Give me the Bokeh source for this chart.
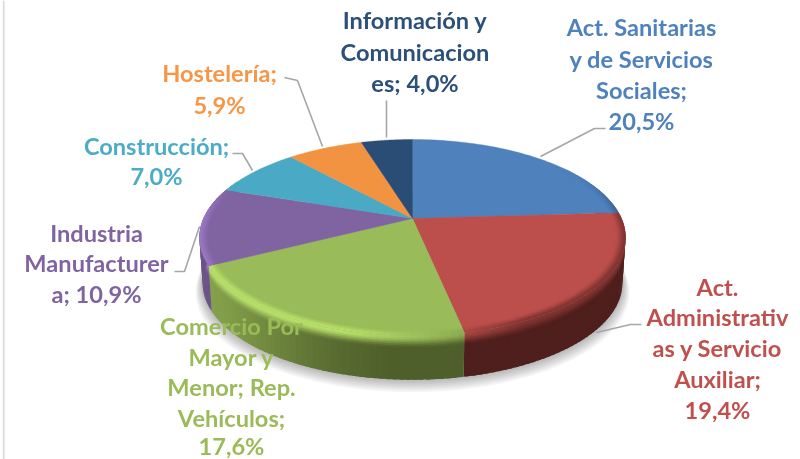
import numpy as np
from bokeh.plotting import figure
from bokeh.embed import file_html
from bokeh.resources import INLINE
from bokeh.core.properties import value

categories = ["Act. Sanitarias y de Servicios Sociales", "Act. Administrativas y Servicio Auxiliar",
              "Comercio Por Mayor y Menor; Rep. Vehículos", "Industria Manufacturera",
              "Construcción", "Hostelería", "Información y Comunicaciones"]
shares = [20.5, 19.4, 17.6, 10.9, 7.0, 5.9, 4.0]
top_colors = ["#4F81BD", "#BC4F4C", "#9ABB59", "#8064A2", "#4AA9C4", "#F29341", "#2A4D75"]
text_colors = ["#4F81BD", "#C0504D", "#9BBB59", "#8064A2", "#4BACC6", "#F79646", "#2B5079"]
label_lines = [
    ["Act. Sanitarias", "y de Servicios", "Sociales;", "20,5%"],
    ["Act.", "Administrativ", "as y Servicio", "Auxiliar;", "19,4%"],
    ["Comercio Por", "Mayor y", "Menor; Rep.", "Vehículos;", "17,6%"],
    ["Industria", "Manufacturer", "a; 10,9%"],
    ["Construcción;", "7,0%"],
    ["Hostelería;", "5,9%"],
    ["Información y", "Comunicacion", "es; 4,0%"],
]
label_x = [641, 717, 231, 96, 156, 219, 414.5]
label_y = [[26, 58, 89, 120], [286, 316, 347, 378, 409], [325, 356, 386, 417, 445],
           [232, 262, 293], [145, 175], [72, 104], [19, 51, 82]]
leaders = [
    ([540, 594, 605], [156, 128, 128]),
    ([596, 630, 641], [332, 324, 324]),
    ([174, 184, 199], [271, 271, 226]),
    ([232, 242, 252], [153, 153, 170]),
    ([284, 297, 322], [77, 80, 146]),
    ([386, 386], [100, 137]),
]

CX, AY, R, H, K, DEPTH = 412.0, 218.0, 209.0, 94.3, 0.194, 46.0


def proj(theta_deg, r=1.0, dz=0.0):
    t = np.radians(theta_deg)
    s = 1.0 / (1.0 + K * r * np.cos(t))
    shrink = 1.0 - 0.015 * dz
    return CX + R * shrink * r * np.sin(t) * s, AY - H * shrink * r * np.cos(t) * s + DEPTH * dz


def rgb(h):
    return np.array([int(h[i:i + 2], 16) for i in (1, 3, 5)], dtype=float)


def tohex(c):
    c = np.clip(c, 0, 255).astype(int)
    return "#%02x%02x%02x" % tuple(c)


def mix(a, b, f):
    return a + (b - a) * f


def smooth(u):
    u = np.clip(u, 0, 1)
    return u * u * (3 - 2 * u)


wall_dark = {0: "#2E4A6E", 1: "#4E1F1C", 2: "#4F5F2B", 3: "#6A5488", 4: "#2F7086", 5: "#9A5C28", 6: "#1A3048"}


def wall_col(i, th):
    if i == 2:
        return mix(rgb("#4F5F2B"), rgb("#84A04B"), smooth((th - 180) / 60))
    return rgb(wall_dark[i])


def rim_col(i, th):
    base = rgb(top_colors[i])
    hi = smooth((th - 172) / 26) * (1 - 0.9 * smooth((th - 268) / 24))
    dark = (1 - smooth((th - 150) / 30)) * smooth((th - 55) / 40)
    c = mix(base, rgb(wall_dark[i]), 0.55 * dark)
    return mix(c, np.clip(base * 1.2, 0, 255), hi)


total = sum(shares)
edges = np.concatenate([[0.0], np.cumsum(shares)]) / total * 360.0

p = figure(width=800, height=459, x_range=(0, 800), y_range=(459, 0), toolbar_location=None,
           output_backend="svg", min_border=0, outline_line_color=None,
           styles={"position": "fixed", "left": "0", "top": "0"})
p.axis.visible = False
p.grid.visible = False
p.background_fill_color = "white"
p.border_fill_color = "white"

p.line([3.2, 3.2], [0, 459], line_color="#D9D9D9", line_width=1.6)

# soft shadow
th_all = np.arange(0, 361, 3.0)
for g in np.linspace(1.0, 0.0, 9):
    x, y = proj(th_all, 1.0 + 0.035 * g, 1.0 + 0.17 * g)
    p.patch(x, y, fill_color="black", fill_alpha=0.035, line_color=None)

# side wall: each cell overlaps the next one slightly, so no seams show
bands = np.r_[np.linspace(0, 0.3, 9), 1.0]
xs, ys, cs = [], [], []
for i in range(len(shares)):
    a, b = edges[i], edges[i + 1]
    lo, hi = max(a, 70.0), min(b, 295.0)
    if hi <= lo:
        continue
    n = max(1, int((hi - lo) / 1.5))
    tt = np.linspace(lo, hi, n + 1)
    for j in range(n):
        tm = 0.5 * (tt[j] + tt[j + 1])
        t0, t1 = tt[j], min(tt[j + 1] + 1.0, hi)
        for z0, z1 in zip(bands[:-1], bands[1:]):
            zb = min(z1 + 0.02, 1.0)
            arc = np.linspace(t0, t1, 4)
            xa, ya = proj(np.r_[arc, arc[::-1]], 1.0, np.r_[np.full(4, z0), np.full(4, zb)])
            xs.append(list(xa)); ys.append(list(ya))
            cs.append(tohex(mix(rim_col(i, tm), wall_col(i, tm), smooth(z0 / 0.27))))
p.patches(xs, ys, fill_color=cs, line_color=None)

# top faces
for i in range(len(shares)):
    tt = np.linspace(edges[i], edges[i + 1], 60)
    x, y = proj(tt)
    p.patch(np.r_[CX, x], np.r_[AY, y], fill_color=top_colors[i], line_color=top_colors[i], line_width=0.4)

# bevel on the rim of the top face
rings = np.linspace(0.955, 1.0, 7)
xs, ys, cs = [], [], []
for i in range(len(shares)):
    a, b = edges[i], edges[i + 1]
    lo, hi = max(a, 55.0), min(b, 292.0)
    if hi <= lo:
        continue
    n = max(1, int((hi - lo) / 1.5))
    tt = np.linspace(lo, hi, n + 1)
    base = rgb(top_colors[i])
    for j in range(n):
        tm = 0.5 * (tt[j] + tt[j + 1])
        t0, t1 = tt[j], min(tt[j + 1] + 1.0, hi)
        for q, (r0, r1) in enumerate(zip(rings[:-1], rings[1:])):
            rb = min(r1 + 0.002, 1.0)
            arc = np.linspace(t0, t1, 4)
            xa, ya = proj(np.r_[arc, arc[::-1]], np.r_[np.full(4, r0), np.full(4, rb)])
            xs.append(list(xa)); ys.append(list(ya))
            cs.append(tohex(mix(base, rim_col(i, tm), smooth((q + 0.5) / (len(rings) - 1)))))
p.patches(xs, ys, fill_color=cs, line_color=None)

# leaders
for lx, ly in leaders:
    p.line(lx, ly, line_color="#A6A6A6", line_width=1.6)

# labels
for i, lines in enumerate(label_lines):
    p.text([label_x[i]] * len(lines), label_y[i], text=lines, text_color=text_colors[i],
           text_font=value("Lato"), text_font_style="bold", text_font_size="23.6px",
           text_align="center", text_baseline="middle")

open("out.html", "w").write(file_html(p, INLINE))
